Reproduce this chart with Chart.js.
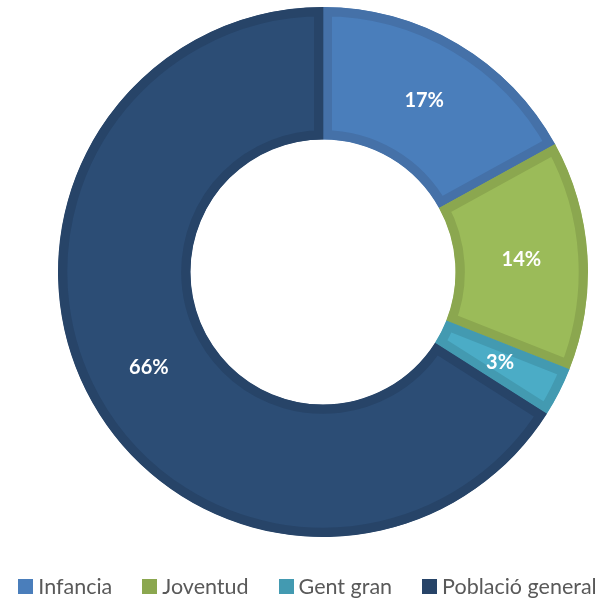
<!DOCTYPE html>
<html>
<head>
<meta charset="utf-8">
<script src="https://cdn.jsdelivr.net/npm/chart.js@4/dist/chart.umd.min.js"></script>
<style>
  html, body { margin: 0; padding: 0; background: #fff; }
  #wrap { position: relative; width: 603px; height: 599px; }
  #legend { position: absolute; left: 12px; top: 572px; width: 591px; height: 28px;
            display: flex; justify-content: center; align-items: center;
            font-family: Lato, sans-serif; font-size: 21.5px; color: #595959; white-space: nowrap; }
  #legend .item { display: flex; align-items: center; margin: 0 15px; }
  #legend .item:first-child { margin-left: 0; }
  #legend .item:last-child { margin-right: 0; }
  #legend .box { width: 15px; height: 15px; margin-right: 5px; }
</style>
</head>
<body>
<div id="wrap">
  <canvas id="myChart"></canvas>
  <div id="legend"></div>
</div>
<script>
var categories = ["Infancia", "Joventud", "Gent gran", "Població general"]
var values = [17, 14, 3, 66]
var fillColors = ["#4a7ebb", "#9bbb59", "#4bacc6", "#2c4d75"]
var edgeColors = ["#4571a8", "#8ba74f", "#439ab1", "#274468"]
var legendColors = ["#4a7ebb", "#8ba74f", "#439ab1", "#274468"]

// percentage labels in the middle of each slice
var sliceLabels = {
    id: 'sliceLabels',
    afterDatasetsDraw: function(chart){
        var ctx = chart.ctx
        var meta = chart.getDatasetMeta(0)
        ctx.save()
        ctx.fillStyle = "#ffffff"
        ctx.font = "bold 20px Lato"
        ctx.textAlign = "center"
        ctx.textBaseline = "middle"
        meta.data.forEach(function(arc, i){
            var pos = arc.tooltipPosition()
            ctx.fillText(values[i] + "%", pos.x, pos.y)
        })
        ctx.restore()
    }
}

var myChart = document.getElementById("myChart").getContext('2d')

var chart = new Chart(myChart, {
    type: 'doughnut',
    data: {
        labels: categories,
        datasets: [{
            data: values,
            backgroundColor: fillColors,
            borderColor: edgeColors,
            borderWidth: 9,
            borderAlign: 'inner',
            hoverOffset: 0
        }]
    },
    options: {
        responsive: true,
        maintainAspectRatio: false,
        animation: false,
        cutout: '50%',
        layout: { padding: { top: 7, left: 58, right: 15, bottom: 62 } },
        plugins: {
            tooltip: { enabled: false },
            legend: { display: false }
        }
    },
    plugins: [sliceLabels]
})

// legend below the chart
var legend = document.getElementById("legend")
categories.forEach(function(name, i){
    var item = document.createElement("div")
    item.className = "item"
    var box = document.createElement("span")
    box.className = "box"
    box.style.background = legendColors[i]
    var txt = document.createElement("span")
    txt.textContent = name
    item.appendChild(box)
    item.appendChild(txt)
    legend.appendChild(item)
})
</script>
</body>
</html>
